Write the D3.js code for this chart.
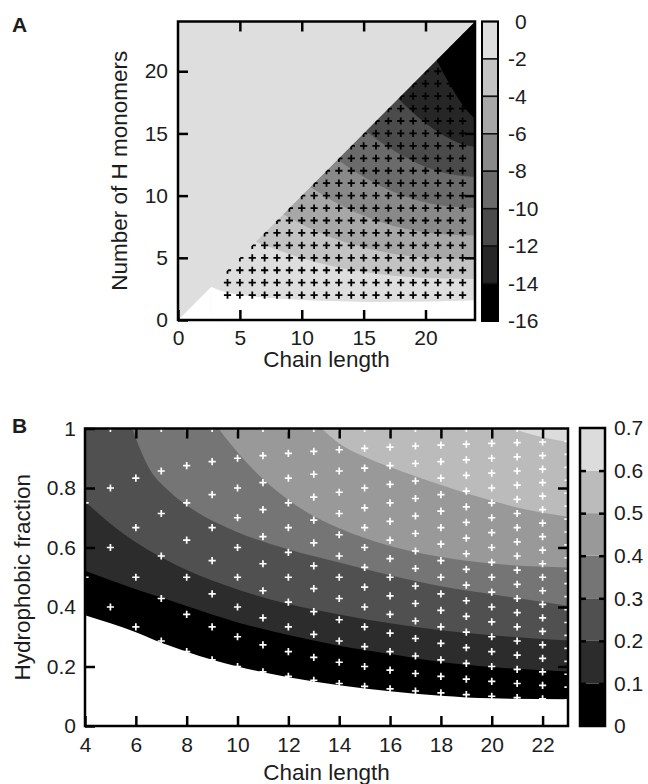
<!DOCTYPE html>
<html><head><meta charset="utf-8">
<script src="https://cdn.jsdelivr.net/npm/d3@7"></script>
<style>
body{margin:0;background:#fff}
text{font-family:"Liberation Sans",Arial,Helvetica,sans-serif;fill:#1c1c1c}
</style>
</head><body>
<svg id="c" width="648" height="784"></svg>
<script>
// ---------------- DATA ----------------
// simulated chains: chain length N, number of H monomers from 2 to N
const chainLengths = [4,5,6,7,8,9,10,11,12,13,14,15,16,17,18,19,20,21,22,23];
const minHMonomers = 2;

// Panel A : colour levels and band colours (top = 0)
const levelsA = [0,-2,-4,-6,-8,-10,-12,-14,-16];
const bandColorsA = ["#dedede","#c3c3c3","#a7a7a7","#898989","#6b6b6b","#4b4b4b","#262626","#000000"];
const ticksA = [0,5,10,15,20];
// contour lines of panel A, [chain length, H monomers]
const contourA_m2  = [[6.3,6.3],[7.72,5.74],[9.84,5.02],[12.5,4.32],[16.04,3.71],[20.11,3.37],[24,3.3]];
const contourA_m4  = [[8.5,8.5],[9.74,7.82],[11.6,6.96],[13.93,6.13],[17.03,5.39],[20.59,4.98],[24,4.9]];
const contourA_m6  = [[10.7,10.7],[11.76,10.02],[13.36,9.13],[15.36,8.25],[18.02,7.42],[21.07,6.92],[24,6.8]];
const contourA_m8  = [[12.9,12.9],[13.79,12.27],[15.12,11.44],[16.79,10.58],[19.01,9.73],[21.56,9.16],[24,9.0]];
const contourA_m10 = [[15.2,15.2],[15.9,14.66],[16.96,13.92],[18.28,13.13],[20.04,12.31],[22.06,11.71],[24,11.5]];
const contourA_m12 = [[17.8,17.8],[18.3,17.31],[19.04,16.63],[19.97,15.86],[21.21,14.99],[22.64,14.25],[24,13.9]];
const contourA_m14 = [[20.9,20.9],[21.15,20.42],[21.52,19.72],[21.99,18.89],[22.61,17.86],[23.32,16.86],[24,16.2]];
// edge of the empty (white) region of panel A
const emptyEdgeA = [[2.68,2.68],[3.5,2.35],[4.5,2.12],[6,1.9],[8,1.72],[10,1.6],[13,1.5],[16,1.45],[19,1.46],[22,1.52],[24,1.58]];

// Panel B : hydrophobic fraction
const levelsB = [0,0.1,0.2,0.3,0.4,0.5,0.6,0.7];
const bandColorsB = ["#000000","#2c2c2c","#505050","#757575","#999999","#bbbbbb","#dcdcdc"];
const xTicksB = [4,6,8,10,12,14,16,18,20,22];
const yTicksB = [0,0.2,0.4,0.6,0.8,1];
const emptyEdgeB = [[4,0.372],[5,0.345],[6,0.315],[7,0.28],[8,0.25],[9,0.223],[10,0.2],[11,0.181],[12,0.164],[14,0.137],[16,0.117],[18,0.102],[20,0.093],[23,0.09]];
const contourB_01 = [[4,0.522],[5,0.49],[6,0.46],[7,0.432],[8,0.403],[10,0.348],[12,0.306],[14,0.27],[16,0.242],[18,0.215],[20,0.198],[23,0.183]];
const contourB_02 = [[4,0.755],[5,0.68],[6,0.618],[7,0.567],[8,0.524],[10,0.459],[12,0.41],[14,0.375],[16,0.345],[18,0.322],[20,0.305],[23,0.287]];
const contourB_03 = [[5.85,1],[6.5,0.87],[7.3,0.79],[8.2,0.73],[9.9,0.655],[11.95,0.595],[14,0.55],[16,0.507],[18,0.47],[20,0.443],[23,0.404]];
const contourB_04 = [[9.25,1],[10,0.92],[11,0.83],[12,0.76],[13,0.705],[14,0.665],[16,0.605],[18,0.568],[20,0.546],[23,0.533]];
const contourB_05 = [[13.3,1],[14,0.95],[15,0.905],[16.5,0.855],[18,0.81],[19.8,0.762],[21.5,0.725],[23,0.703]];
const contourB_06 = [[20.8,1],[21.8,0.975],[23,0.955]];

// ---------------- DRAW ----------------
const svg = d3.select("#c");
const cross = "M-3.6,0H3.6M0,-3.6V3.6";
const FS = 21, TFS = 22.5;

// ===== Panel A =====
const xA = d3.scaleLinear().domain([0,24]).range([178,475]);
const yA = d3.scaleLinear().domain([0,24]).range([320,21.5]);
const defs = svg.append("defs");
defs.append("clipPath").attr("id","clipA").append("rect")
  .attr("x",xA(0)).attr("y",yA(24)).attr("width",xA(24)-xA(0)).attr("height",yA(0)-yA(24));
const pA = svg.append("g").attr("clip-path","url(#clipA)");
pA.append("rect").attr("x",xA(0)).attr("y",yA(24)).attr("width",xA(24)-xA(0)).attr("height",yA(0)-yA(24))
  .attr("fill",bandColorsA[0]);
const contoursA = [contourA_m2,contourA_m4,contourA_m6,contourA_m8,contourA_m10,contourA_m12,contourA_m14];
const areaA = d3.area().x(d=>xA(d[0])).y0(d=>yA(d[1])).y1(d=>yA(d[0])).curve(d3.curveMonotoneX);
contoursA.forEach((c,i)=>{
  pA.append("path").attr("d",areaA(c)).attr("fill",bandColorsA[i+1]);
});
// empty region
const areaEmptyA = d3.area().x(d=>xA(d[0])).y0(d=>yA(d[1])).y1(yA(0)).curve(d3.curveMonotoneX);
pA.append("path").attr("d",areaEmptyA(emptyEdgeA)).attr("fill","#fff");
const lineA = d3.line().x(d=>xA(d[0])).y(d=>yA(d[1]));
pA.append("path").attr("d",lineA([[0,0],emptyEdgeA[0],[emptyEdgeA[0][0],0]])+"Z").attr("fill","#fff");
// markers
const gridA = [];
chainLengths.forEach(n=>{ for(let h=minHMonomers;h<=n;h++) gridA.push([n,h]); });
pA.selectAll("path.mA").data(gridA).join("path").attr("class","mA")
  .attr("transform",d=>`translate(${xA(d[0])},${yA(d[1])})`)
  .attr("d",cross).attr("stroke","#000").attr("stroke-width",1.8).attr("fill","none");
// upper triangle (no data)
pA.append("path").attr("d",lineA([[0,0],[0,24],[24,24]])+"Z").attr("fill",bandColorsA[0]);

// axes A
function styleAxis(g){ g.select(".domain").remove(); g.selectAll("line").attr("stroke","#000").attr("stroke-width",2.5); g.selectAll("text").attr("font-size",FS).attr("fill","#1c1c1c").attr("font-family",null); }
svg.append("g").attr("transform",`translate(0,${yA(0)})`)
  .call(d3.axisBottom(xA).tickValues(ticksA).tickSizeInner(-10).tickSizeOuter(0).tickPadding(10)).call(styleAxis);
svg.append("g").attr("transform",`translate(0,${yA(24)})`)
  .call(d3.axisTop(xA).tickValues(ticksA.slice(1)).tickSizeInner(-10).tickSizeOuter(0).tickFormat("")).call(styleAxis);
svg.append("g").attr("transform",`translate(${xA(0)},0)`)
  .call(d3.axisLeft(yA).tickValues(ticksA).tickSizeInner(-10).tickSizeOuter(0).tickPadding(10)).call(styleAxis);
svg.append("g").attr("transform",`translate(${xA(24)},0)`)
  .call(d3.axisRight(yA).tickValues(ticksA.slice(1)).tickSizeInner(-10).tickSizeOuter(0).tickFormat("")).call(styleAxis);
svg.append("rect").attr("x",xA(0)).attr("y",yA(24)).attr("width",xA(24)-xA(0)).attr("height",yA(0)-yA(24))
  .attr("fill","none").attr("stroke","#000").attr("stroke-width",2.5);
svg.append("text").attr("x",(xA(0)+xA(24))/2).attr("y",367).attr("text-anchor","middle").attr("font-size",TFS).text("Chain length");
svg.append("text").attr("transform",`translate(127,${(yA(0)+yA(24))/2}) rotate(-90)`).attr("text-anchor","middle").attr("font-size",TFS).text("Number of H monomers");
svg.append("text").attr("x",12).attr("y",32).attr("font-size",21).attr("font-weight","bold").text("A");

// colour bar A
const cA = d3.scaleLinear().domain([-16,0]).range([321,21.5]);
const cbA = svg.append("g");
for(let i=0;i<bandColorsA.length;i++){
  cbA.append("rect").attr("x",482).attr("width",16).attr("y",cA(levelsA[i])).attr("height",cA(levelsA[i+1])-cA(levelsA[i]))
    .attr("fill",bandColorsA[i]).attr("stroke","#111").attr("stroke-width",1.5);
}
cbA.append("rect").attr("x",482).attr("width",16).attr("y",cA(0)).attr("height",cA(-16)-cA(0))
  .attr("fill","none").attr("stroke","#000").attr("stroke-width",2);
const axCA = svg.append("g").attr("transform","translate(498,0)")
  .call(d3.axisRight(cA).tickValues(levelsA).tickSize(0).tickPadding(10).tickFormat(d=>String(d))).call(styleAxis);
axCA.selectAll("text").filter(d=>d>=0).attr("dx",7);

// ===== Panel B =====
const xB = d3.scaleLinear().domain([4,23]).range([85,568]);
const yB = d3.scaleLinear().domain([0,1]).range([726,428.5]);
defs.append("clipPath").attr("id","clipB").append("rect")
  .attr("x",xB(4)).attr("y",yB(1)).attr("width",xB(23)-xB(4)).attr("height",yB(0)-yB(1));
const pB = svg.append("g").attr("clip-path","url(#clipB)");
pB.append("rect").attr("x",xB(4)).attr("y",yB(1)).attr("width",xB(23)-xB(4)).attr("height",yB(0)-yB(1)).attr("fill","#fff");
const areaB = d3.area().x(d=>xB(d[0])).y0(d=>yB(d[1])).y1(yB(1)).curve(d3.curveMonotoneX);
const contoursB = [emptyEdgeB,contourB_01,contourB_02,contourB_03,contourB_04,contourB_05,contourB_06];
contoursB.forEach((c,i)=>{ pB.append("path").attr("d",areaB(c)).attr("fill",bandColorsB[i]); });
const gridB = [];
chainLengths.forEach(n=>{ for(let h=minHMonomers;h<=n;h++) gridB.push([n,h/n]); });
pB.selectAll("path.mB").data(gridB).join("path").attr("class","mB")
  .attr("transform",d=>`translate(${xB(d[0])},${yB(d[1])})`)
  .attr("d",cross).attr("stroke","#fff").attr("stroke-width",1.7).attr("fill","none");

svg.append("g").attr("transform",`translate(0,${yB(0)})`)
  .call(d3.axisBottom(xB).tickValues(xTicksB).tickSizeInner(-10).tickSizeOuter(0).tickPadding(11)).call(styleAxis);
svg.append("g").attr("transform",`translate(0,${yB(1)})`)
  .call(d3.axisTop(xB).tickValues(xTicksB.slice(1)).tickSizeInner(-10).tickSizeOuter(0).tickFormat("")).call(styleAxis);
svg.append("g").attr("transform",`translate(${xB(4)},0)`)
  .call(d3.axisLeft(yB).tickValues(yTicksB).tickSizeInner(-10).tickSizeOuter(0).tickPadding(9).tickFormat(d=>String(d))).call(styleAxis);
svg.append("g").attr("transform",`translate(${xB(23)},0)`)
  .call(d3.axisRight(yB).tickValues(yTicksB.slice(1,-1)).tickSizeInner(-10).tickSizeOuter(0).tickFormat("")).call(styleAxis);
svg.append("rect").attr("x",xB(4)).attr("y",yB(1)).attr("width",xB(23)-xB(4)).attr("height",yB(0)-yB(1))
  .attr("fill","none").attr("stroke","#000").attr("stroke-width",2.5);
svg.append("text").attr("x",(xB(4)+xB(23))/2).attr("y",780).attr("text-anchor","middle").attr("font-size",TFS).text("Chain length");
svg.append("text").attr("transform",`translate(30,${(yB(0)+yB(1))/2}) rotate(-90)`).attr("text-anchor","middle").attr("font-size",TFS).text("Hydrophobic fraction");
svg.append("text").attr("x",12).attr("y",433).attr("font-size",21).attr("font-weight","bold").text("B");

// colour bar B
const cB = d3.scaleLinear().domain([0,0.7]).range([726,428]);
const cbB = svg.append("g");
for(let i=0;i<bandColorsB.length;i++){
  cbB.append("rect").attr("x",580).attr("width",25).attr("y",cB(levelsB[i+1])).attr("height",cB(levelsB[i])-cB(levelsB[i+1]))
    .attr("fill",bandColorsB[i]);
}
svg.append("g").attr("transform","translate(580,0)")
  .call(d3.axisLeft(cB).tickValues(levelsB.slice(1,-1)).tickSizeInner(-6).tickSizeOuter(0).tickFormat("")).call(styleAxis);
svg.append("g").attr("transform","translate(605,0)")
  .call(d3.axisRight(cB).tickValues(levelsB.slice(1,-1)).tickSizeInner(-6).tickSizeOuter(0).tickFormat("")).call(styleAxis);
cbB.append("rect").attr("x",580).attr("width",25).attr("y",cB(0.7)).attr("height",cB(0)-cB(0.7))
  .attr("fill","none").attr("stroke","#000").attr("stroke-width",2.5);
svg.append("g").attr("transform","translate(605,0)")
  .call(d3.axisRight(cB).tickValues(levelsB).tickSize(0).tickPadding(9).tickFormat(d=>d===0?"0":d.toFixed(1))).call(styleAxis);
</script>
</body></html>
